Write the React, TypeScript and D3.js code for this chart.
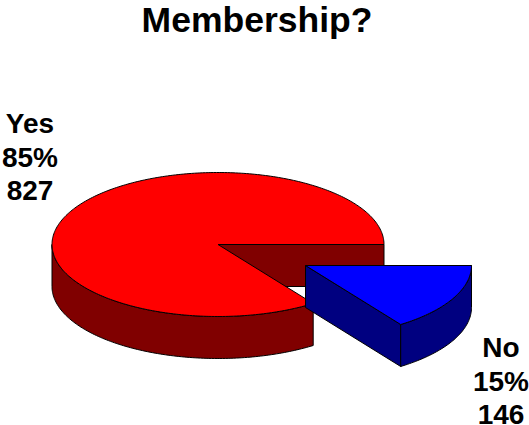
import React from "react";
import * as d3 from "d3";

const categories = ["Yes", "No"];
const counts = [827, 146];
const percents = ["85%", "15%"];
const drawnShares = [84.72, 15.28];
const topColors = ["#ff0000", "#0000ff"];
const sideColors = ["#800000", "#000080"];
const title = "Membership?";

const W = 529, H = 425;
const RX = 166, RY = 72, DEPTH = 42;
const centers: [number, number][] = [[218, 244.5], [305.5, 265.5]];
const labelPos: [number, number[]][] = [
  [30, [133, 167, 200]],
  [501, [357, 391, 424]],
];

const total = d3.sum(drawnShares);
const startA = Math.PI / 2 + (2 * Math.PI * drawnShares[1]) / total;
const arcs = d3.pie<number>().sort(null).startAngle(startA).endAngle(startA + 2 * Math.PI)(drawnShares);

const pt = (c: [number, number], a: number, dy = 0): [number, number] => {
  const t = a - Math.PI / 2;
  return [c[0] + RX * Math.cos(t), c[1] + RY * Math.sin(t) + dy];
};
const line = d3.line<[number, number]>();
const sample = (a0: number, a1: number) => {
  const n = Math.max(2, Math.ceil(Math.abs(a1 - a0) * 60));
  return d3.range(n + 1).map((i) => a0 + ((a1 - a0) * i) / n);
};

function outerWall(c: [number, number], a0: number, a1: number) {
  const as = sample(a0, a1);
  return line([...as.map((a) => pt(c, a)), ...as.slice().reverse().map((a) => pt(c, a, DEPTH))]) + "Z";
}
function radialWall(c: [number, number], a: number) {
  const p = pt(c, a);
  return line([c, p, [p[0], p[1] + DEPTH], [c[0], c[1] + DEPTH]]) + "Z";
}
function top(c: [number, number], a0: number, a1: number) {
  return line([c, ...sample(a0, a1).map((a) => pt(c, a))]) + "Z";
}

export default function App() {
  const yes = arcs[0], no = arcs[1];
  const west = (3 * Math.PI) / 2;
  const stroke = { stroke: "#000", strokeWidth: 1, strokeLinejoin: "round" as const };
  return (
    <svg width={W} height={H} style={{ position: "absolute", left: 0, top: 0 }} fontFamily="'Liberation Sans', Arial, sans-serif" fontWeight="bold">
      <text x={257} y={32} textAnchor="middle" fontSize={35.5}>{title}</text>
      <path d={radialWall(centers[0], yes.endAngle)} fill={sideColors[0]} {...stroke} />
      <path d={outerWall(centers[0], yes.startAngle, west)} fill={sideColors[0]} {...stroke} />
      <path d={top(centers[0], yes.startAngle, yes.endAngle)} fill={topColors[0]} {...stroke} />
      <path d={radialWall(centers[1], no.endAngle)} fill={sideColors[1]} {...stroke} />
      <path d={outerWall(centers[1], no.startAngle, no.endAngle)} fill={sideColors[1]} {...stroke} />
      <path d={top(centers[1], no.startAngle, no.endAngle)} fill={topColors[1]} {...stroke} />
      {categories.map((cat, i) =>
        [cat, percents[i], String(counts[i])].map((t, j) => (
          <text key={cat + j} x={labelPos[i][0]} y={labelPos[i][1][j]} textAnchor="middle" fontSize={28}>{t}</text>
        ))
      )}
    </svg>
  );
}
